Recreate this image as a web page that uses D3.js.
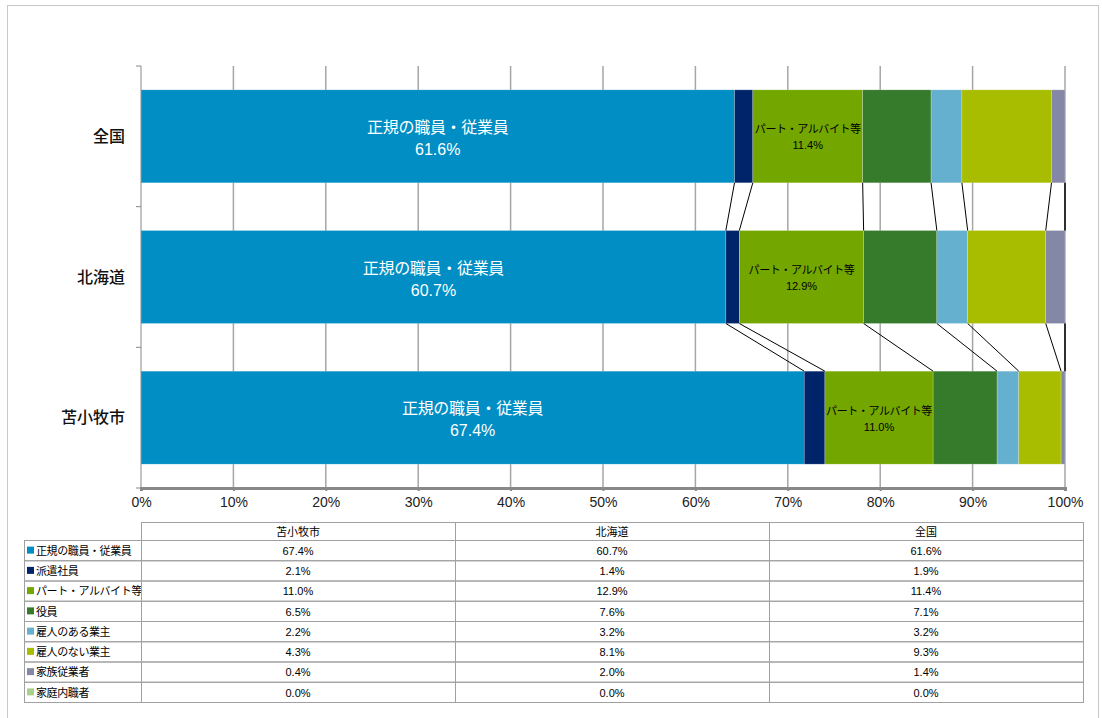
<!DOCTYPE html>
<html>
<head>
<meta charset="utf-8">
<script src="https://cdn.jsdelivr.net/npm/d3@7"></script>
<style>
  body { margin: 0; background: #fff; }
  svg { display: block; font-family: "Liberation Sans", Arial, "Noto Sans CJK JP", sans-serif; }
</style>
</head>
<body>
<div id="chart"></div>
<script>
// data (bars drawn top to bottom; table columns use reverse order)
const categories = ['全国', '北海道', '苫小牧市'];
const tableColumns = ['苫小牧市', '北海道', '全国'];
const seriesNames = ['正規の職員・従業員', '派遣社員', 'パート・アルバイト等', '役員',
  '雇人のある業主', '雇人のない業主', '家族従業者', '家庭内職者'];
const valuesTomakomai = [67.4, 2.1, 11.0, 6.5, 2.2, 4.3, 0.4, 0.0];
const valuesHokkaido = [60.7, 1.4, 12.9, 7.6, 3.2, 8.1, 2.0, 0.0];
const valuesZenkoku = [61.6, 1.9, 11.4, 7.1, 3.2, 9.3, 1.4, 0.0];
const xTicks = [0, 0.1, 0.2, 0.3, 0.4, 0.5, 0.6, 0.7, 0.8, 0.9, 1.0];
const colors = ['#008ec4', '#002469', '#73a700', '#367a2b', '#66b0cf', '#a8bc00', '#8488a6', '#a6d18a'];

const valuesBy = { '苫小牧市': valuesTomakomai, '北海道': valuesHokkaido, '全国': valuesZenkoku };

const width = 1102, height = 718;
const plot = { left: 141, right: 1065, top: 66, bottom: 488 };

const svg = d3.select('#chart').append('svg')
  .attr('width', width)
  .attr('height', height);

// outer frame
svg.append('rect')
  .attr('x', 7.5).attr('y', 5.5)
  .attr('width', 1091).attr('height', 730)
  .attr('fill', 'none')
  .attr('stroke', '#c8c8c8');

// build stack table
const rows = categories.map(c => {
  const o = { cat: c };
  seriesNames.forEach((s, i) => o[s] = valuesBy[c][i]);
  return o;
});
const stacked = d3.stack()
  .keys(seriesNames)
  .offset(d3.stackOffsetExpand)(rows);

const x = d3.scaleLinear().domain([0, 1]).range([plot.left, plot.right]);
const y = d3.scaleBand().domain(categories)
  .range([plot.top, plot.bottom])
  .paddingInner(0.339).paddingOuter(0.1695);

// gridlines
svg.append('g').selectAll('line')
  .data(xTicks.slice(1))
  .join('line')
  .attr('x1', d => x(d)).attr('x2', d => x(d))
  .attr('y1', plot.top).attr('y2', plot.bottom)
  .attr('stroke', '#a6a6a6')
  .attr('stroke-width', 1.5);

// bars
const layer = svg.append('g').selectAll('g')
  .data(stacked)
  .join('g')
  .attr('fill', (d, i) => colors[i]);

layer.selectAll('rect')
  .data(d => d)
  .join('rect')
  .attr('x', d => x(d[0]))
  .attr('y', d => y(d.data.cat))
  .attr('width', d => Math.max(0, x(d[1]) - x(d[0])))
  .attr('height', y.bandwidth())
  .attr('stroke', 'rgba(255,255,255,0.35)')
  .attr('stroke-width', 0.6);

// series lines between adjacent bars
const connectors = [];
stacked.forEach(s => {
  for (let i = 0; i < categories.length - 1; i++) {
    connectors.push({ a: s[i], b: s[i + 1] });
  }
});
svg.append('g').selectAll('line')
  .data(connectors)
  .join('line')
  .attr('x1', d => x(d.a[1]))
  .attr('y1', d => y(d.a.data.cat) + y.bandwidth())
  .attr('x2', d => x(d.b[1]))
  .attr('y2', d => y(d.b.data.cat))
  .attr('stroke', '#000')
  .attr('stroke-width', 1);

// data labels
const gl = svg.append('g').attr('text-anchor', 'middle');
stacked[0].forEach(d => {
  const cx = (x(d[0]) + x(d[1])) / 2;
  const cy = y(d.data.cat) + y.bandwidth() / 2;
  gl.append('text').attr('x', cx).attr('y', cy - 9).attr('dy', '0.35em')
    .attr('fill', '#fff').attr('font-size', 16).attr('letter-spacing', -0.3)
    .text(seriesNames[0]);
  gl.append('text').attr('x', cx).attr('y', cy + 13).attr('dy', '0.35em')
    .attr('fill', '#fff').attr('font-size', 16)
    .text(d.data[seriesNames[0]].toFixed(1) + '%');
});
stacked[2].forEach(d => {
  const cx = (x(d[0]) + x(d[1])) / 2;
  const cy = y(d.data.cat) + y.bandwidth() / 2;
  gl.append('text').attr('x', cx).attr('y', cy - 7).attr('dy', '0.35em')
    .attr('fill', '#000').attr('font-size', 11).attr('letter-spacing', -0.4)
    .text(seriesNames[2]);
  gl.append('text').attr('x', cx).attr('y', cy + 9).attr('dy', '0.35em')
    .attr('fill', '#000').attr('font-size', 11)
    .text(d.data[seriesNames[2]].toFixed(1) + '%');
});

// left axis
const yAxis = svg.append('g');
yAxis.append('line')
  .attr('x1', plot.left).attr('x2', plot.left)
  .attr('y1', plot.top).attr('y2', plot.bottom)
  .attr('stroke', '#888');
const bounds = categories.map(c => y(c) - y.step() * y.paddingInner() / 2);
bounds.push(plot.bottom);
yAxis.selectAll('.tk')
  .data(bounds)
  .join('line')
  .attr('x1', plot.left - 5).attr('x2', plot.left)
  .attr('y1', d => d).attr('y2', d => d)
  .attr('stroke', '#888');
yAxis.selectAll('text')
  .data(categories)
  .join('text')
  .attr('x', 125)
  .attr('y', d => y(d) + y.bandwidth() / 2)
  .attr('dy', '0.35em')
  .attr('text-anchor', 'end')
  .attr('font-size', 16)
  .attr('font-weight', 500)
  .attr('fill', '#111')
  .text(d => d);

// bottom axis
const xAxis = svg.append('g').attr('transform', `translate(0,${plot.bottom})`)
  .call(d3.axisBottom(x).tickValues(xTicks).tickFormat(d3.format('.0%')).tickSize(3).tickPadding(6));
xAxis.select('.domain').attr('stroke', '#888').attr('stroke-width', 3);
xAxis.selectAll('.tick line').attr('stroke', '#888').attr('stroke-width', 2);
xAxis.selectAll('.tick text')
  .attr('font-size', 14)
  .attr('fill', '#222')
  .attr('font-family', '"Liberation Sans", Arial, sans-serif');

// data table
const tbl = { left: 24, top: 522, headH: 18, rowH: 20.25 };
const colX = [141, 455, 769, 1083];
const tg = svg.append('g').attr('font-size', 11).attr('fill', '#000');
const lineColor = '#a0a0a0';
const bodyTop = tbl.top + tbl.headH;
const bodyBottom = bodyTop + tbl.rowH * seriesNames.length;

// header cells
tableColumns.forEach((c, i) => {
  tg.append('rect')
    .attr('x', colX[i] + 0.5).attr('y', tbl.top + 0.5)
    .attr('width', colX[i + 1] - colX[i]).attr('height', tbl.headH)
    .attr('fill', 'none').attr('stroke', lineColor);
  tg.append('text')
    .attr('x', (colX[i] + colX[i + 1]) / 2)
    .attr('y', tbl.top + tbl.headH / 2 + 1)
    .attr('dy', '0.35em')
    .attr('text-anchor', 'middle')
    .text(c);
});

// body rows
seriesNames.forEach((s, r) => {
  const ry = bodyTop + r * tbl.rowH;
  tg.append('rect')
    .attr('x', tbl.left + 0.5).attr('y', ry + 0.5)
    .attr('width', colX[colX.length - 1] - tbl.left).attr('height', tbl.rowH)
    .attr('fill', 'none').attr('stroke', lineColor);
  tg.append('rect')
    .attr('x', 27).attr('y', ry + tbl.rowH / 2 - 3.5)
    .attr('width', 7).attr('height', 7)
    .attr('fill', colors[r]);
  tg.append('text')
    .attr('x', 36).attr('y', ry + tbl.rowH / 2 + 1)
    .attr('dy', '0.35em')
    .attr('letter-spacing', -0.4)
    .text(s);
  tableColumns.forEach((c, i) => {
    tg.append('text')
      .attr('x', (colX[i] + colX[i + 1]) / 2)
      .attr('y', ry + tbl.rowH / 2 + 1)
      .attr('dy', '0.35em')
      .attr('text-anchor', 'middle')
      .text(valuesBy[c][r].toFixed(1) + '%');
  });
});

// column separators in body
tg.selectAll('.sep')
  .data(colX)
  .join('line')
  .attr('x1', d => d + 0.5).attr('x2', d => d + 0.5)
  .attr('y1', bodyTop).attr('y2', bodyBottom)
  .attr('stroke', lineColor);
</script>
</body>
</html>
